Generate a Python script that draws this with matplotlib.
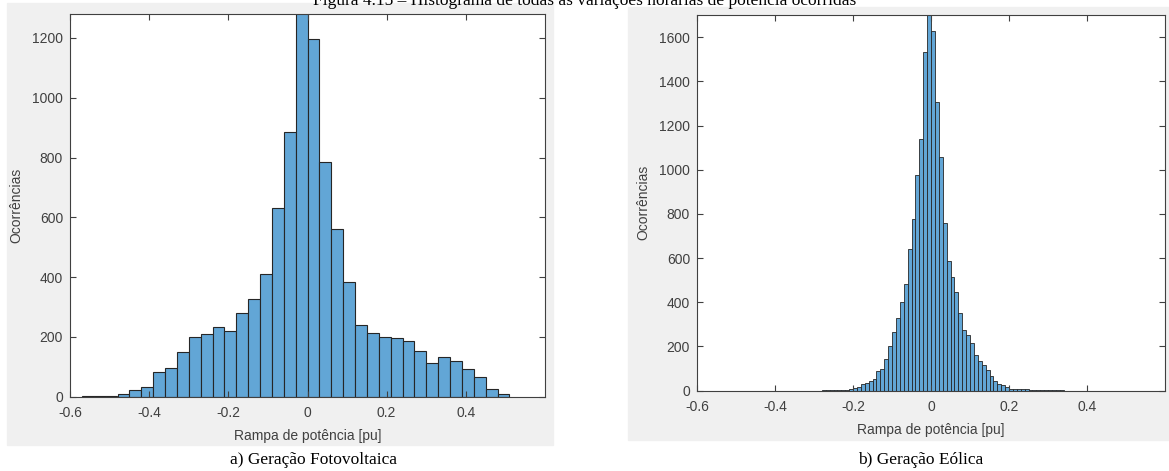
import matplotlib.pyplot as plt
import numpy as np

plt.rcParams['font.family'] = ['Liberation Sans', 'DejaVu Sans']

# dados - histograma fotovoltaico (bins de 0.03 pu)
pv_inicio = -0.57
pv_largura = 0.03
pv_contagens = [1, 3, 1, 8, 21, 34, 82, 95, 149, 201, 211, 232, 221, 279, 327,
                411, 632, 884, 1400, 1195, 784, 562, 382, 239, 213, 201, 195,
                185, 153, 114, 132, 120, 92, 66, 26, 9]

# dados - histograma eólico (bins de 0.01 pu)
eol_inicio = -0.28
eol_largura = 0.01
eol_contagens = [1, 1, 2, 2, 3, 3, 4, 6, 10, 15, 30, 35, 45, 54, 91, 100, 143,
                 201, 266, 329, 400, 483, 643, 775, 975, 1141, 1531, 1800,
                 1627, 1307, 1058, 757, 586, 515, 446, 352, 273, 251, 216, 163,
                 136, 115, 92, 65, 45, 30, 24, 15, 9, 8, 7, 7, 6, 4, 3, 2, 2,
                 2, 1, 1, 1, 1]

xticks = [-0.6, -0.4, -0.2, 0, 0.2, 0.4]
xtick_labels = ['-0.6', '-0.4', '-0.2', '0', '0.2', '0.4']
titulo = 'Figura 4.15 – Histograma de todas as variações horárias de potência ocorridas'
legendas = ['a) Geração Fotovoltaica', 'b) Geração Eólica']

W, H = 1169, 471
fig = plt.figure(figsize=(W / 100, H / 100), dpi=100)
fig.patch.set_facecolor('white')

# fundos cinzas das janelas do MATLAB
cinza = '#f0f0f0'
fig.add_artist(plt.Rectangle((7 / W, 1 - 445 / H), 546 / W, 442 / H,
                             transform=fig.transFigure, color=cinza, zorder=0))
fig.add_artist(plt.Rectangle((628 / W, 1 - 440 / H), 545 / W, 433 / H,
                             transform=fig.transFigure, color=cinza, zorder=0))


def histograma(rect, inicio, largura, contagens, ymax, yticks):
    ax = fig.add_axes(rect)
    n = len(contagens)
    bordas = inicio + largura * np.arange(n)
    ax.bar(bordas, contagens, width=largura, align='edge',
           color='#62a6d6', edgecolor='#262626', linewidth=0.8)
    ax.set_xlim(-0.6, 0.6)
    ax.set_ylim(0, ymax)
    ax.set_xticks(xticks)
    ax.set_xticklabels(xtick_labels)
    ax.set_yticks(yticks)
    ax.tick_params(direction='in', length=4, width=0.8, colors='#404040',
                   labelsize=10, top=True, right=True)
    ax.tick_params(axis='x', pad=7)
    ax.tick_params(axis='y', pad=5)
    for s in ax.spines.values():
        s.set_color('#404040')
        s.set_linewidth(0.8)
    ax.set_xlabel('Rampa de potência [pu]', fontsize=10, color='#404040', labelpad=6)
    ax.set_ylabel('Ocorrências', fontsize=10, color='#404040', labelpad=6)
    return ax


ax1 = histograma([70 / W, 1 - 396.7 / H, 475 / W, 382.7 / H],
                 pv_inicio, pv_largura, pv_contagens, 1280,
                 np.arange(0, 1201, 200))
ax2 = histograma([697 / W, 1 - 390.7 / H, 468 / W, 375.7 / H],
                 eol_inicio, eol_largura, eol_contagens, 1700,
                 np.arange(0, 1601, 200))
for p in ax2.patches:
    p.set_linewidth(0.6)

fig.text(0.5, 1 - 1 / H, titulo, family='Liberation Serif', fontsize=12.5,
         ha='center', va='center')
fig.text(314 / W, 1 - 460 / H, legendas[0], family='Liberation Serif',
         fontsize=12.5, ha='center', va='center')
fig.text(921 / W, 1 - 460 / H, legendas[1], family='Liberation Serif',
         fontsize=12.5, ha='center', va='center')

fig.savefig('out.png', dpi=100)
